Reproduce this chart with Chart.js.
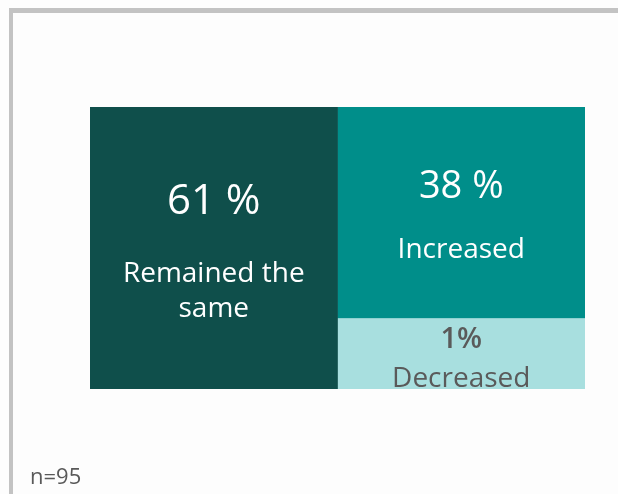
<!DOCTYPE html>
<html>
<head>
<meta charset="utf-8">
<script src="https://cdn.jsdelivr.net/npm/chart.js@4"></script>
<style>
  html, body { margin: 0; padding: 0; background: #fdfdfd; }
  #wrap { position: relative; width: 618px; height: 494px; overflow: hidden; }
  #frame { position: absolute; left: 9px; top: 8px; width: 700px; height: 600px;
           border-left: 4px solid #c3c3c3; border-top: 5px solid #c3c3c3; }
  #myChart { position: absolute; left: 0; top: 0; }
  #note { position: absolute; left: 30px; top: 460px; font-family: "Open Sans", sans-serif;
          font-size: 22px; color: #595959; }
</style>
</head>
<body>
<div id="wrap">
  <div id="frame"></div>
  <canvas id="myChart" width="618" height="494"></canvas>
  <div id="note">n=95</div>
</div>
<script>
// answers and their shares
let answers = ['Remained the same', 'Increased', 'Decreased'];
let shares = [61, 38, 1];
// block height inside its column, as drawn in the picture
let blockSize = [100, 75, 25];
let columns = ['left', 'right'];
let colors = ['#0f4f4b', '#008e8a', '#a8dfdf'];

const labelPlugin = {
    id: 'blockLabels',
    afterDatasetsDraw(chart) {
        const ctx = chart.ctx;
        ctx.save();
        ctx.textAlign = 'center';
        ctx.textBaseline = 'middle';
        chart.data.datasets.forEach((ds, d) => {
            chart.getDatasetMeta(d).data.forEach((bar, i) => {
                if (ds.data[i] == null) return;
                let p = bar.getProps(['x', 'y', 'base'], true);
                let cy = (p.y + p.base) / 2;
                let k = ds.idx;
                if (k == 0) {
                    ctx.fillStyle = '#ffffff';
                    ctx.font = '42px "Open Sans"';
                    ctx.fillText(shares[k] + ' %', p.x, cy - 46);
                    ctx.font = '28px "Open Sans"';
                    ctx.fillText('Remained the', p.x, cy + 26);
                    ctx.fillText('same', p.x, cy + 61);
                } else if (k == 1) {
                    ctx.fillStyle = '#ffffff';
                    ctx.font = '38px "Open Sans"';
                    ctx.fillText(shares[k] + ' %', p.x, cy - 26);
                    ctx.font = '28px "Open Sans"';
                    ctx.fillText(answers[k], p.x, cy + 37);
                } else {
                    ctx.fillStyle = '#5a5a5a';
                    ctx.font = '600 29px "Open Sans"';
                    ctx.fillText(shares[k] + '%', p.x, cy - 14);
                    ctx.font = '28px "Open Sans"';
                    ctx.fillText(answers[k], p.x, cy + 25);
                }
            });
        });
        ctx.restore();
    }
};

// stacking order: bottom first
const ctx = document.getElementById('myChart');
new Chart(ctx, {
    type: 'bar',
    data: {
        labels: columns,
        datasets: [
            { idx: 0, label: answers[0], data: [blockSize[0], null], backgroundColor: colors[0] },
            { idx: 2, label: answers[2], data: [null, blockSize[2]], backgroundColor: colors[2] },
            { idx: 1, label: answers[1], data: [null, blockSize[1]], backgroundColor: colors[1] }
        ]
    },
    options: {
        responsive: false,
        animation: false,
        categoryPercentage: 1,
        barPercentage: 1,
        layout: { padding: { left: 90, right: 33, top: 107, bottom: 105 } },
        plugins: {
            legend: { display: false },
            tooltip: { enabled: false }
        },
        scales: {
            x: { display: false, stacked: true },
            y: { display: false, stacked: true, min: 0, max: 100 }
        }
    },
    plugins: [labelPlugin]
});
</script>
</body>
</html>
